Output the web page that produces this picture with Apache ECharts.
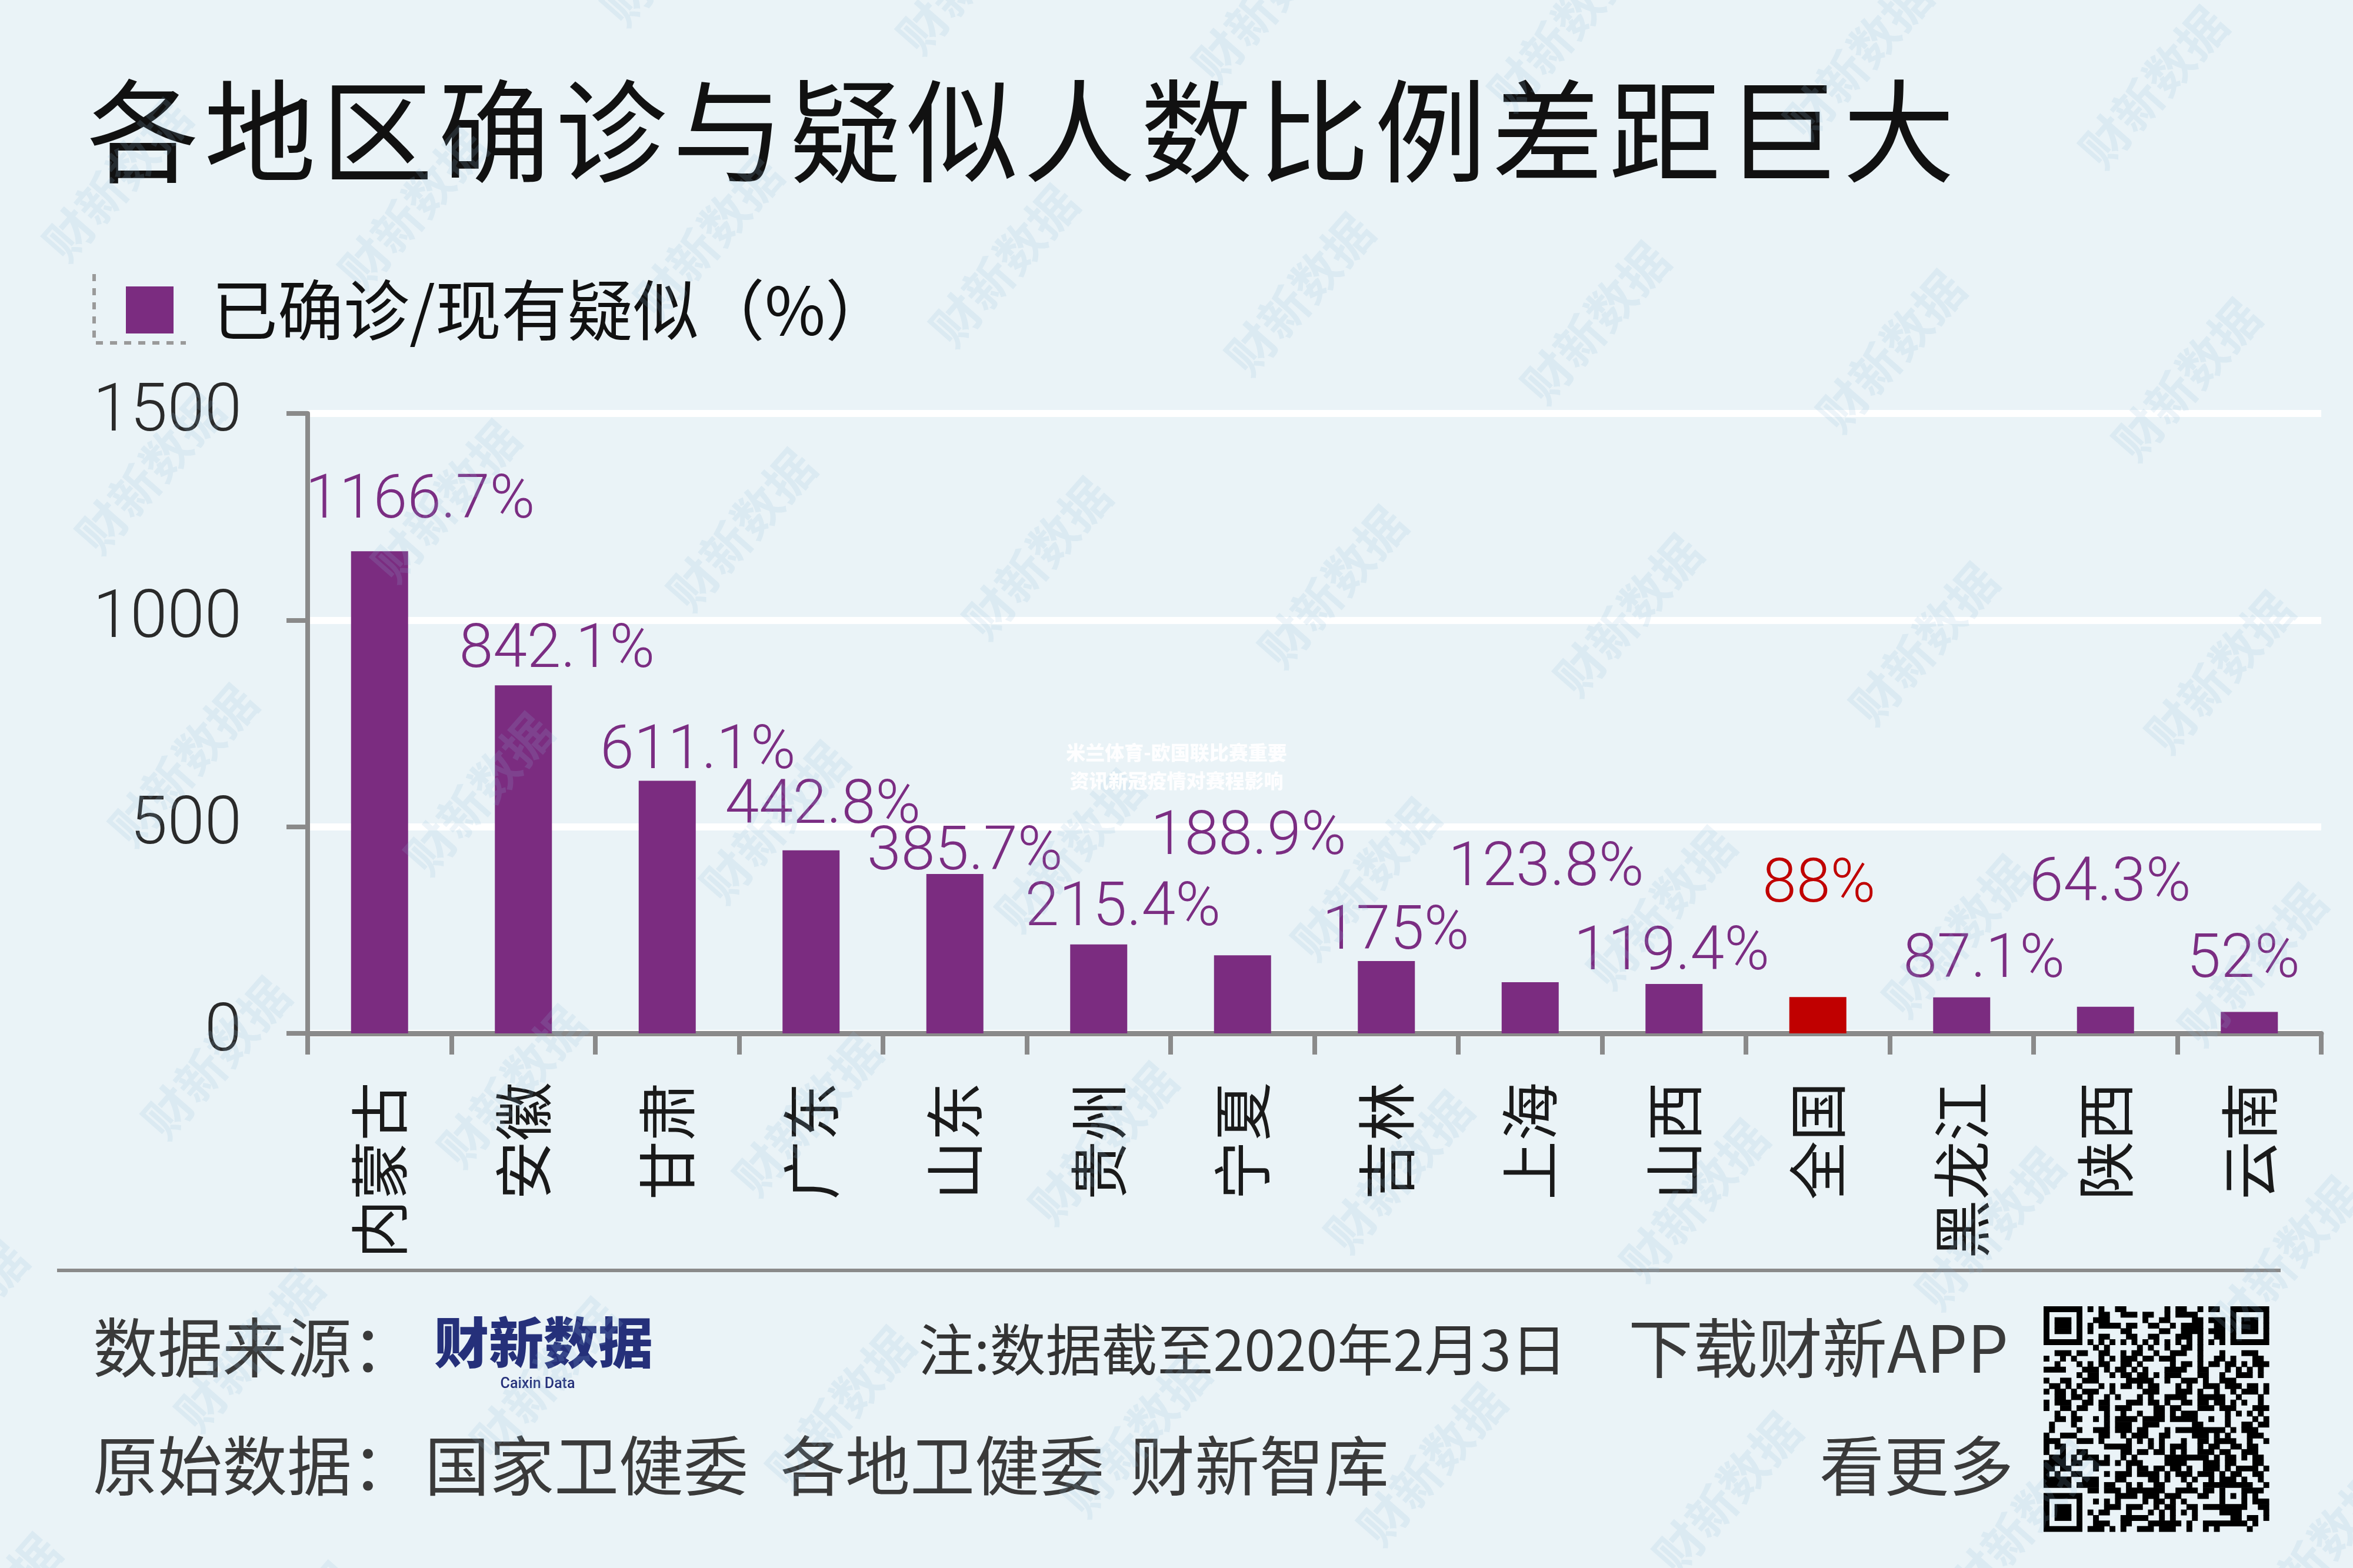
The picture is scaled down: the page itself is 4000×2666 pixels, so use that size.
<!DOCTYPE html>
<html><head><meta charset="utf-8">
<script src="https://cdn.jsdelivr.net/npm/echarts@6/dist/echarts.min.js"></script>
<style>html,body{margin:0;padding:0;background:#EAF3F7}#c{width:4000px;height:2666px}</style>
</head><body><div id="c"></div>
<script>
// ---- data ----
const categories = ['内蒙古','安徽','甘肃','广东','山东','贵州','宁夏','吉林','上海','山西','全国','黑龙江','陕西','云南'];
const ratios = [1166.7, 842.1, 611.1, 442.8, 385.7, 215.4, 188.9, 175, 123.8, 119.4, 88, 87.1, 64.3, 52];
const yTicks = [0, 500, 1000, 1500];
const highlightCategory = '全国';
const seriesName = '已确诊/现有疑似（%）';
const titleText = '各地区确诊与疑似人数比例差距巨大';
const sourceLabel = '数据来源：';
const logoText = '财新数据';
const logoSub = 'Caixin Data';
const noteText = '注:数据截至2020年2月3日';
const appText = '下载财新APP';
const origLabel = '原始数据：';
const origSources = ['国家卫健委', '各地卫健委', '财新智库'];
const moreText = '看更多';
const overlayLines = ['米兰体育-欧国联比赛重要', '资讯新冠疫情对赛程影响'];
const watermarkText = '财新数据';

// ---- layout (label nudges, px) ----
const labelOffsets = [[69,-31],[57,-5],[52,4],[20,-21],[17,18],[41,-7],[10,-146],[16,5],[27,-139],[-4,1],[2,-136],[38,-9],[8,-155],[-10,-33]];
const origSourceX = [722, 1327, 1921];

const PURPLE = '#7B2C80', RED = '#C00000';
const CJK = "'Noto Sans CJK SC', 'Noto Sans', sans-serif";
const NUM = "Roboto, 'Liberation Sans', sans-serif";

const chart = echarts.init(document.getElementById('c'), null, {renderer: 'canvas'});

const seriesData = ratios.map((v, i) => {
  const hl = categories[i] === highlightCategory;
  return {
    value: v,
    itemStyle: {color: hl ? RED : PURPLE},
    label: {color: hl ? RED : '#7B2D82', offset: labelOffsets[i]}
  };
});

const graphics = [];
// title, per character
for (let i = 0; i < titleText.length; i++) {
  graphics.push({type: 'text', left: 148 + i * 199, top: 128, z: 10,
    style: {text: titleText[i], font: `400 190px ${CJK}`, fill: '#111'}});
}
// legend dashed corner
graphics.push({type: 'polyline', z: 10, shape: {points: [[160, 466], [160, 583], [316, 583]]},
  style: {stroke: '#9a9a9a', lineWidth: 6, lineDash: [12, 12], fill: null}});
// footer rule
graphics.push({type: 'line', z: 10, shape: {x1: 97, y1: 2160, x2: 3877, y2: 2160},
  style: {stroke: '#8a8a8a', lineWidth: 6}});
// footer texts
const ft = (text, x, y, size, color, weight, align) => graphics.push({type: 'text', z: 10, x: x, y: y,
  style: {text: text, font: `${weight || 400} ${size}px ${CJK}`, fill: color, textAlign: align || 'left', textVerticalAlign: 'middle'}});
ft(sourceLabel, 158, 2291, 110, '#3a3a3a');
ft(logoText, 738, 2283, 93, '#25307A', 900);
graphics.push({type: 'text', z: 10, x: 914, y: 2354, style: {text: logoSub, font: `500 25px ${NUM}`, fill: '#25307A', textAlign: 'center', textVerticalAlign: 'middle'}});
ft(noteText, 1561, 2295, 95, '#333');
ft(appText, 2768, 2292, 110, '#3a3a3a');
ft(origLabel, 158, 2492, 110, '#3a3a3a');
origSources.forEach((t, k) => ft(t, origSourceX[k], 2492, 110, '#3a3a3a'));
ft(moreText, 3423, 2492, 110, '#3a3a3a', 400, 'right');
// overlay white text
overlayLines.forEach((t, k) => graphics.push({type: 'text', z: 60, x: 2000, y: 1279 + k * 48,
  style: {text: t, font: `900 33px ${CJK}`, fill: 'rgba(255,255,255,0.92)', textAlign: 'center', textVerticalAlign: 'middle'}}));

// QR-like decoration
(function () {
  const N = 41, x0 = 3474, y0 = 2221, m = 383 / N;
  const grid = [];
  const h = (i, j) => { let v = (i * 73856093) ^ (j * 19349663) ^ (i * j * 83492791); v = Math.imul(v ^ (v >>> 13), 1274126177); v ^= v >>> 16; return (v & 7) < 4; };
  for (let r = 0; r < N; r++) { grid.push([]); for (let c = 0; c < N; c++) grid[r].push(h(r, c)); }
  const finder = (r0, c0) => { for (let r = -1; r < 8; r++) for (let c = -1; c < 8; c++) { const rr = r0 + r, cc = c0 + c; if (rr < 0 || cc < 0 || rr >= N || cc >= N) continue;
    const inside = r >= 0 && r < 7 && c >= 0 && c < 7; let on = false;
    if (inside) { on = (r === 0 || r === 6 || c === 0 || c === 6) || (r >= 2 && r <= 4 && c >= 2 && c <= 4); }
    grid[rr][cc] = on; } };
  finder(0, 0); finder(0, N - 7); finder(N - 7, 0);
  for (let r = 32; r <= 36; r++) for (let c = 32; c <= 36; c++) grid[r][c] = (r === 32 || r === 36 || c === 32 || c === 36 || (r === 34 && c === 34));
  for (let k = 8; k < N - 8; k++) { grid[6][k] = k % 2 === 0; grid[k][6] = k % 2 === 0; }
  const children = [];
  for (let r = 0; r < N; r++) { let c = 0; while (c < N) { if (grid[r][c]) { let s = c; while (c < N && grid[r][c]) c++;
    children.push({type: 'rect', shape: {x: x0 + s * m, y: y0 + r * m, width: (c - s) * m + 0.6, height: m + 0.6}, style: {fill: '#000'}}); } else c++; } }
  graphics.push({type: 'group', z: 10, children: children});
})();

// watermarks
for (let j = -2; j <= 5; j++) {
  for (let i = -1; i <= 8; i++) {
    const sx = 100 + 197 * i + 22 * j, sy = 315 + 19 * i + 195 * j;
    const x = sx * 2.551, y = sy * 2.551;
    if (x < -200 || x > 4200 || y < -200 || y > 2900) continue;
    graphics.push({type: 'text', z: 50, x: x, y: y, rotation: 0.85,
      style: {text: watermarkText, font: `700 82px ${CJK}`, fill: 'rgba(140,185,220,0.16)', textAlign: 'center', textVerticalAlign: 'middle'}});
  }
}

const option = {
  backgroundColor: '#EAF3F7',
  animation: false,
  legend: {
    data: [seriesName], left: 209, top: 466, icon: 'rect', itemWidth: 81, itemHeight: 80,
    textStyle: {fontSize: 112, fontFamily: CJK, color: '#111', padding: [52, 0, 0, 60]}
  },
  grid: {left: 523, right: 54, top: 703, bottom: 909, containLabel: false, outerBoundsMode: 'none'},
  xAxis: {
    type: 'category', data: categories,
    axisLine: {lineStyle: {color: '#8a8a8a', width: 9}},
    axisTick: {show: true, length: 36, lineStyle: {color: '#8a8a8a', width: 8}},
    axisLabel: {interval: 0, rotate: 90, margin: 83, fontSize: 100, fontFamily: CJK, color: '#1a1a1a'}
  },
  yAxis: {
    type: 'value', min: yTicks[0], max: yTicks[yTicks.length - 1], interval: yTicks[1] - yTicks[0],
    axisLine: {show: true, lineStyle: {color: '#8a8a8a', width: 8}},
    axisTick: {show: true, length: 36, lineStyle: {color: '#8a8a8a', width: 8}},
    axisLabel: {margin: 112, fontSize: 114, fontFamily: NUM, fontWeight: 300, color: '#2a2a2a', formatter: v => String(v)},
    splitLine: {show: true, lineStyle: {color: '#ffffff', width: 12}}
  },
  series: [{
    name: seriesName, type: 'bar', data: seriesData, barWidth: 97,
    itemStyle: {color: PURPLE},
    label: {show: true, position: 'top', distance: 0, formatter: '{c}%', fontSize: 104, lineHeight: 104,
      fontFamily: NUM, fontWeight: 300}
  }],
  graphic: {elements: graphics}
};
chart.setOption(option);
</script></body></html>
